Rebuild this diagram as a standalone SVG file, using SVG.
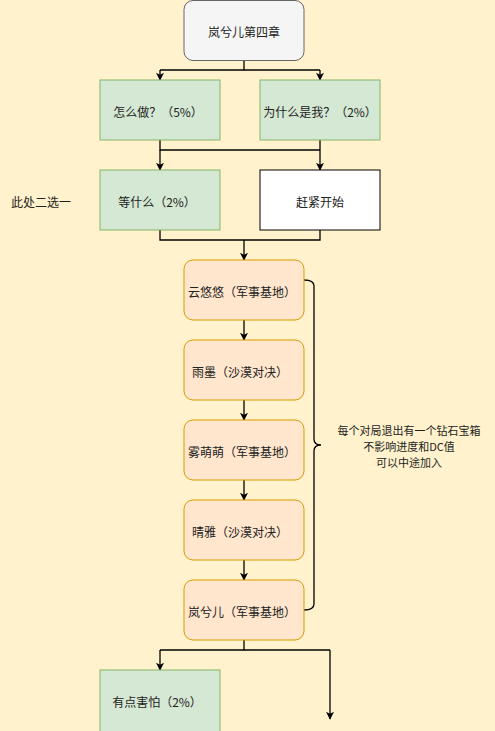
<svg xmlns="http://www.w3.org/2000/svg" width="495" height="731" viewBox="0 0 495 731">
<defs>
<marker id="arr" viewBox="0 0 10 10" refX="9" refY="5" markerWidth="8" markerHeight="8" markerUnits="userSpaceOnUse" orient="auto"><path d="M0,0 L10,5 L0,10 L2.5,5 Z" fill="#000"/></marker>
</defs>
<style>
text{font-family:"Noto Sans CJK SC","Liberation Sans",sans-serif;font-size:12px;fill:#222;text-anchor:middle;dominant-baseline:central}
.note{font-size:11px}
.grey{fill:#f5f5f5;stroke:#666;stroke-width:1}
.green{fill:#d5e8d4;stroke:#82b366;stroke-width:1}
.white{fill:#fff;stroke:#000;stroke-width:1}
.orange{fill:#ffe6cc;stroke:#d79b00;stroke-width:1}
.c{fill:none;stroke:#000;stroke-width:1.3}
.c2{fill:none;stroke:#000;stroke-width:1.3;marker-end:url(#arr)}
</style>
<rect x="0" y="0" width="495" height="731" fill="#fff2cc"/>
<g id="connectors">
<path class="c" d="M244,60 V70 H160"/><path class="c2" d="M160,70 V80"/>
<path class="c" d="M244,70 H320"/><path class="c2" d="M320,70 V80"/>
<path class="c" d="M160,140 V150 H320"/><path class="c2" d="M160,150 V170"/>
<path class="c2" d="M320,140 V170"/>
<path class="c" d="M160,230 V240 H320 V230"/><path class="c2" d="M244,240 V260"/>
<path class="c2" d="M244,320 V340"/>
<path class="c2" d="M244,400 V420"/>
<path class="c2" d="M244,480 V500"/>
<path class="c2" d="M244,560 V580"/>
<path class="c" d="M244,640 V650 H160"/><path class="c2" d="M160,650 V670"/>
<path class="c" d="M244,650 H330"/><path class="c2" d="M330,650 V719"/>
<path class="c" d="M304,280 Q314,280 314,286 V439 Q314,445 321,445 Q314,445 314,451 V604 Q314,610 304,610"/>
</g>
<g id="n0"><rect class="grey" x="184" y="0.5" width="120" height="60" rx="9"/><text x="244" y="31">岚兮儿第四章</text></g>
<g id="n1"><rect class="green" x="100" y="80" width="120" height="60"/><text x="158" y="111">怎么做？（5%）</text></g>
<g id="n2"><rect class="green" x="260" y="80" width="120" height="60"/><text x="320" y="111">为什么是我？（2%）</text></g>
<g id="n3"><rect class="green" x="100" y="170" width="120" height="60"/><text x="157" y="201">等什么（2%）</text></g>
<g id="n4"><rect class="white" x="260" y="170" width="120" height="60"/><text x="320" y="201">赶紧开始</text></g>
<g id="n5"><rect class="orange" x="184" y="260" width="120" height="60" rx="9"/><text x="242" y="291">云悠悠（军事基地）</text></g>
<g id="n6"><rect class="orange" x="184" y="340" width="120" height="60" rx="9"/><text x="240" y="371">雨墨（沙漠对决）</text></g>
<g id="n7"><rect class="orange" x="184" y="420" width="120" height="60" rx="9"/><text x="242" y="451">雾萌萌（军事基地）</text></g>
<g id="n8"><rect class="orange" x="184" y="500" width="120" height="60" rx="9"/><text x="240" y="531">晴雅（沙漠对决）</text></g>
<g id="n9"><rect class="orange" x="184" y="580" width="120" height="60" rx="9"/><text x="242" y="611">岚兮儿（军事基地）</text></g>
<g id="n10"><rect class="green" x="100" y="670" width="120" height="62"/><text x="157" y="701">有点害怕（2%）</text></g>
<g id="labels">
<text x="41" y="201">此处二选一</text>
<text class="note" x="409" y="430">每个对局退出有一个钻石宝箱</text>
<text class="note" x="409" y="446">不影响进度和DC值</text>
<text class="note" x="409" y="462">可以中途加入</text>
</g>
</svg>
